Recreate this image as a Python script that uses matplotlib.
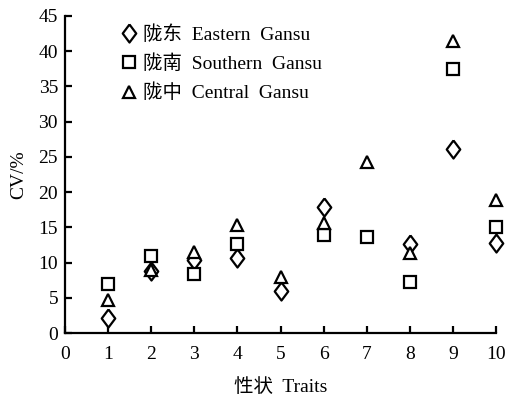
import numpy as np
import matplotlib.pyplot as plt

plt.rcParams['font.family'] = ['Liberation Serif', 'Noto Sans CJK SC']

traits = [1, 2, 3, 4, 5, 6, 7, 8, 9, 10]
eastern = [2.1, 8.8, 10.4, 10.7, 5.9, 17.9, np.nan, 12.6, 26.1, 12.8]
southern = [7.0, 10.9, 8.4, 12.7, np.nan, 13.9, 13.6, 7.2, 37.5, 15.1]
central = [4.7, 9.0, 11.5, 15.3, 8.0, 15.6, 24.3, 11.4, 41.5, 18.9]

labels = ["陇东  Eastern  Gansu", "陇南  Southern  Gansu", "陇中  Central  Gansu"]

# slightly tall diamond
diamond = [(0, 1), (0.75, 0), (0, -1), (-0.75, 0), (0, 1)]

fig = plt.figure(figsize=(5.09, 3.98), dpi=100)
ax = fig.add_axes([0.1277, 0.1633, 0.8468, 0.7965])

kw = dict(linestyle="none", markerfacecolor="white", markeredgecolor="black",
          markeredgewidth=1.6, clip_on=False)
ax.plot(traits, eastern, marker=diamond, markersize=13, label=labels[0], **kw)
ax.plot(traits, southern, marker="s", markersize=8, label=labels[1], **kw)
ax.plot(traits, central, marker="^", markersize=9, label=labels[2], **kw)

ax.set_xlim(0, 10)
ax.set_ylim(0, 45)
ax.set_xticks(range(0, 11))
ax.set_yticks(range(0, 46, 5))

for s in ["top", "right"]:
    ax.spines[s].set_visible(False)
for s in ["left", "bottom"]:
    ax.spines[s].set_linewidth(1.6)

ax.tick_params(direction="in", length=5, width=1.6, labelsize=14, pad=5)
ax.tick_params(axis="x", pad=9)

ax.set_xlabel("性状  Traits", fontsize=14, labelpad=11)
ax.set_ylabel("CV/%", fontsize=14, labelpad=8)

ax.legend(loc="upper left", bbox_to_anchor=(0.085, 1.027), frameon=False,
          fontsize=14, handletextpad=0.25, labelspacing=0.55, handlelength=1.0)

fig.savefig("out.png", dpi=100)
